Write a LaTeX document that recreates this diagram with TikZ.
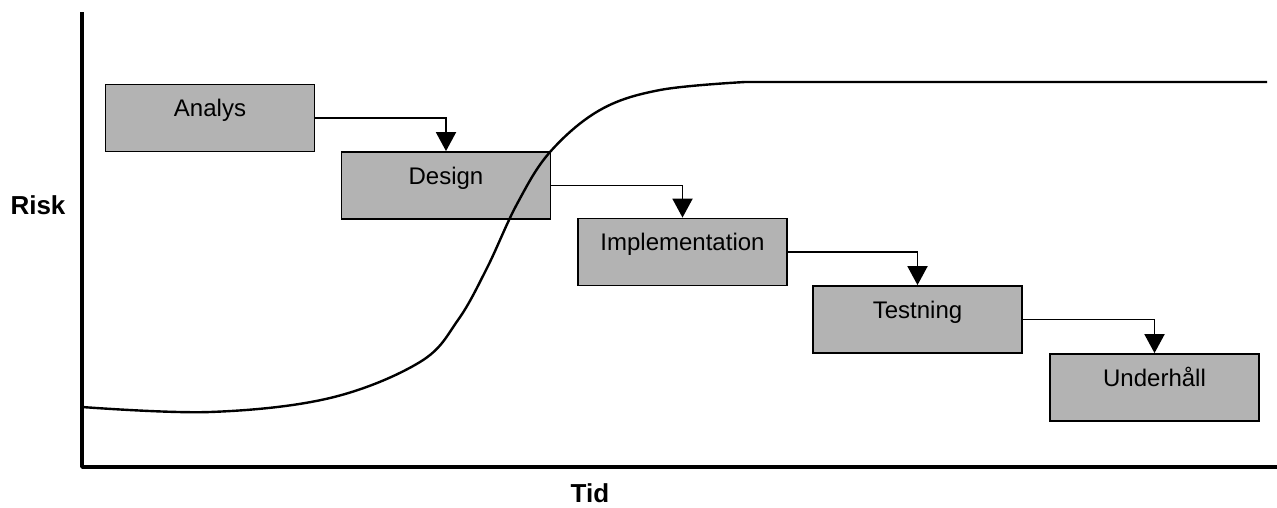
\documentclass[tikz,border=0pt]{standalone}
\usepackage{fontspec}
\setmainfont{Liberation Sans}
\usetikzlibrary{arrows.meta}
\definecolor{boxgray}{RGB}{179,179,179}
\tikzset{
  phase/.style={draw=black, line width=1.8pt, fill=boxgray, minimum width=209pt,
    minimum height=67pt, inner sep=0pt, font=\fontsize{24}{28}\selectfont,
    text height=17pt, text depth=20pt},
  flow/.style={line width=1.9pt, -{Triangle[width=20pt,length=19pt]}},
  axis/.style={line width=3.6pt, line join=round},
  risk/.style={line width=2.4pt},
  axislabel/.style={font=\bfseries\fontsize{26}{30}\selectfont, inner sep=0pt}
}
\begin{document}
\begin{tikzpicture}[x=1pt,y=-1pt]
\useasboundingbox (0,0) rectangle (1277,507);
% axes
\coordinate (ytop) at (82,12);
\coordinate (origin) at (82,467);
\coordinate (xend) at (1277,467);
\draw[axis] (ytop) -- (origin) -- (xend);
\node[axislabel] (risklbl) at (38,205) {Risk};
\node[axislabel] (tidlbl) at (590,493) {Tid};
% phases
\node[phase] (analys) at (210,118) {Analys};
\node[phase] (design) at (446,185.5) {Design};
\node[phase] (impl) at (682.5,252) {Implementation};
\node[phase] (test) at (917.5,319.5) {Testning};
\node[phase] (maint) at (1154.5,387.5) {Underhåll};
% hand-over arrows
\draw[flow] (analys.east) -| (design.north);
\draw[flow] (design.east) -| (impl.north);
\draw[flow] (impl.east) -| (test.north);
\draw[flow] (test.east) -| (maint.north);
% risk curve
\coordinate (rend) at (1267,82);
\draw[risk] plot[smooth, tension=0.6] coordinates {(82,407) (210,412) (330,398) (420,362) (458,320) (487,268) (517,204) (550,152) (600,110) (660,90) (745,82)} -- (rend);
\end{tikzpicture}
\end{document}
